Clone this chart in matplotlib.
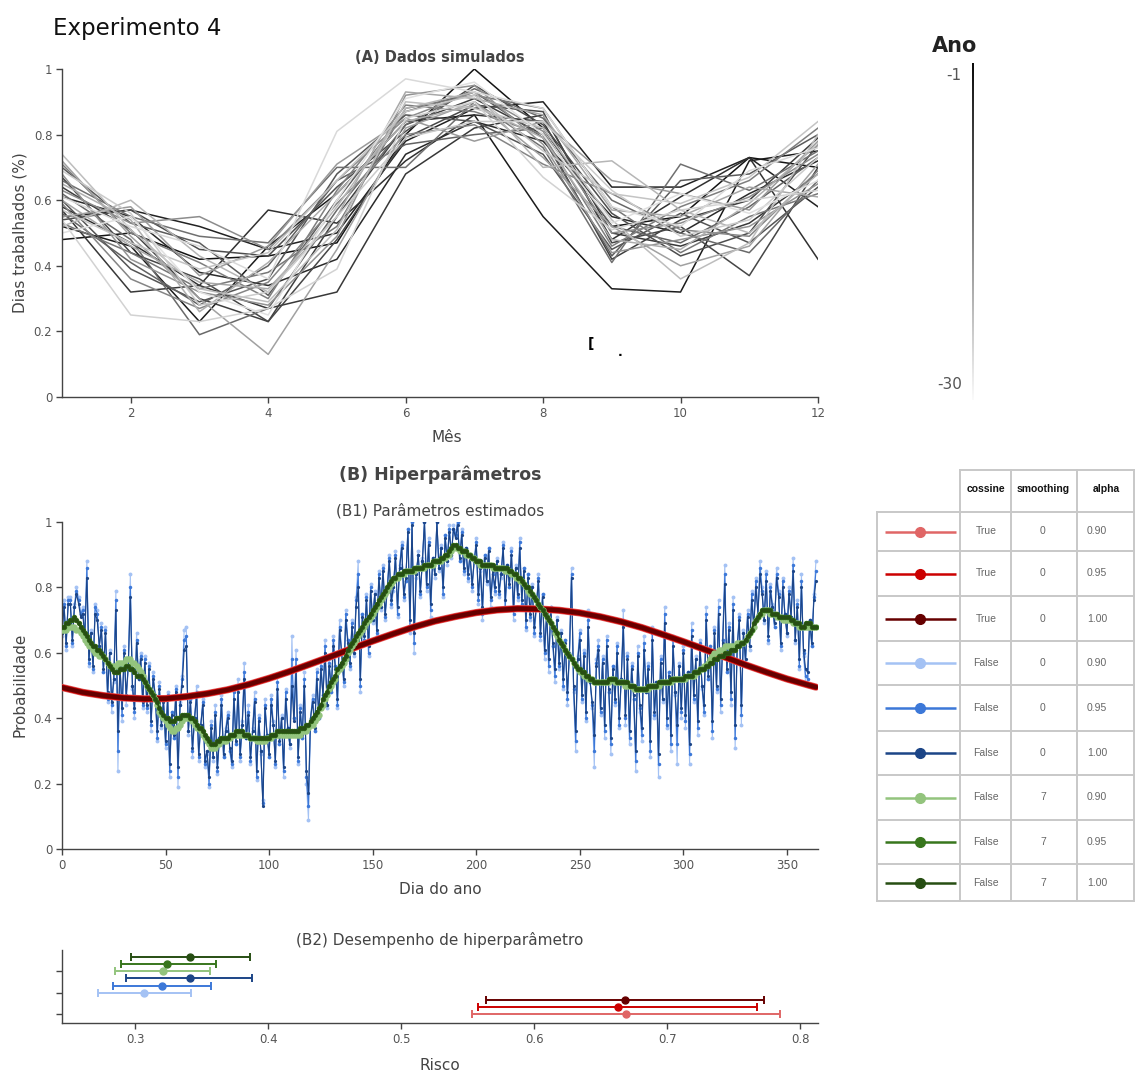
import numpy as np
import matplotlib
matplotlib.use("Agg")
import matplotlib.pyplot as plt

W, H = 1137, 1075

# ---- (A) dados simulados: uma linha por ano, de -1 (mais recente) a -30 ----
months = list(range(1, 13))
year_labels = ["-1", "-30"]
worked = [
    [0.48, 0.50, 0.42, 0.43, 0.47, 0.80, 1.00, 0.82, 0.52, 0.55, 0.73, 0.70],
    [0.52, 0.46, 0.23, 0.46, 0.62, 0.84, 0.86, 0.55, 0.33, 0.32, 0.72, 0.75],
    [0.55, 0.57, 0.52, 0.45, 0.50, 0.78, 0.88, 0.90, 0.64, 0.64, 0.73, 0.58],
    [0.61, 0.55, 0.38, 0.34, 0.42, 0.74, 0.84, 0.78, 0.55, 0.50, 0.62, 0.72],
    [0.58, 0.47, 0.34, 0.57, 0.53, 0.72, 0.86, 0.84, 0.48, 0.61, 0.73, 0.42],
    [0.57, 0.32, 0.34, 0.27, 0.32, 0.68, 0.82, 0.86, 0.50, 0.46, 0.53, 0.68],
    [0.64, 0.51, 0.30, 0.23, 0.55, 0.83, 0.91, 0.80, 0.42, 0.54, 0.60, 0.79],
    [0.67, 0.44, 0.36, 0.23, 0.48, 0.79, 0.89, 0.87, 0.47, 0.52, 0.37, 0.70],
    [0.54, 0.57, 0.45, 0.43, 0.64, 0.81, 0.95, 0.83, 0.56, 0.43, 0.50, 0.77],
    [0.60, 0.39, 0.29, 0.36, 0.68, 0.86, 0.84, 0.74, 0.45, 0.56, 0.47, 0.64],
    [0.70, 0.53, 0.47, 0.31, 0.60, 0.87, 0.93, 0.79, 0.43, 0.66, 0.68, 0.80],
    [0.56, 0.41, 0.28, 0.40, 0.66, 0.77, 0.80, 0.82, 0.52, 0.47, 0.58, 0.73],
    [0.62, 0.48, 0.19, 0.27, 0.57, 0.83, 0.94, 0.85, 0.60, 0.50, 0.44, 0.66],
    [0.66, 0.55, 0.49, 0.47, 0.70, 0.70, 0.90, 0.76, 0.41, 0.71, 0.63, 0.75],
    [0.53, 0.44, 0.33, 0.38, 0.52, 0.88, 0.92, 0.88, 0.58, 0.44, 0.55, 0.62],
    [0.71, 0.50, 0.41, 0.30, 0.63, 0.89, 0.87, 0.80, 0.46, 0.58, 0.66, 0.82],
    [0.59, 0.36, 0.27, 0.35, 0.59, 0.80, 0.83, 0.71, 0.62, 0.51, 0.49, 0.69],
    [0.63, 0.53, 0.55, 0.45, 0.66, 0.85, 0.93, 0.81, 0.50, 0.53, 0.61, 0.74],
    [0.68, 0.42, 0.32, 0.28, 0.49, 0.92, 0.95, 0.77, 0.44, 0.48, 0.52, 0.65],
    [0.55, 0.58, 0.37, 0.46, 0.71, 0.85, 0.78, 0.84, 0.66, 0.62, 0.57, 0.78],
    [0.72, 0.49, 0.30, 0.13, 0.45, 0.82, 0.90, 0.73, 0.52, 0.40, 0.46, 0.71],
    [0.60, 0.46, 0.35, 0.33, 0.55, 0.93, 0.91, 0.86, 0.57, 0.55, 0.64, 0.61],
    [0.65, 0.54, 0.26, 0.41, 0.62, 0.84, 0.89, 0.79, 0.48, 0.45, 0.59, 0.77],
    [0.52, 0.60, 0.43, 0.32, 0.58, 0.88, 0.93, 0.70, 0.72, 0.57, 0.50, 0.68],
    [0.74, 0.51, 0.33, 0.29, 0.51, 0.90, 0.88, 0.82, 0.54, 0.36, 0.47, 0.80],
    [0.57, 0.47, 0.39, 0.44, 0.66, 0.87, 0.92, 0.75, 0.62, 0.59, 0.67, 0.84],
    [0.69, 0.56, 0.28, 0.32, 0.55, 0.79, 0.84, 0.84, 0.63, 0.49, 0.54, 0.73],
    [0.54, 0.25, 0.23, 0.27, 0.39, 0.85, 0.90, 0.67, 0.51, 0.57, 0.60, 0.63],
    [0.61, 0.52, 0.46, 0.36, 0.81, 0.97, 0.93, 0.88, 0.58, 0.52, 0.69, 0.76],
    [0.50, 0.55, 0.32, 0.25, 0.60, 0.91, 0.96, 0.80, 0.53, 0.62, 0.56, 0.66],
]

# ---- (B1) probabilidades estimadas por dia do ano (em %) ----
days = list(range(365))
blue_090 = [
    65, 76, 61, 77, 77, 62, 75, 80, 77, 72, 74, 65, 88, 56, 67, 54, 75, 73, 62, 69,
    54, 68, 45, 61, 42, 51, 79, 24, 56, 39, 62, 44, 56, 84, 49, 40, 66, 52, 60, 43,
    59, 42, 57, 36, 54, 47, 33, 51, 37, 46, 31, 48, 22, 42, 34, 50, 19, 45, 53, 67,
    68, 35, 46, 28, 40, 50, 27, 38, 46, 25, 29, 19, 39, 27, 44, 23, 34, 47, 28, 37,
    42, 30, 25, 49, 32, 52, 27, 39, 57, 34, 44, 26, 37, 48, 21, 41, 29, 15, 46, 35,
    28, 47, 39, 25, 53, 32, 41, 22, 49, 37, 31, 65, 40, 61, 26, 44, 34, 54, 20, 9,
    40, 47, 36, 55, 40, 58, 47, 64, 43, 58, 48, 65, 56, 43, 70, 61, 50, 73, 64, 55,
    70, 59, 77, 88, 48, 72, 64, 78, 59, 81, 69, 79, 65, 85, 73, 87, 70, 79, 90, 74,
    79, 91, 71, 87, 94, 76, 82, 98, 66, 100, 60, 83, 91, 77, 89, 100, 79, 95, 71, 89,
    83, 100, 85, 93, 77, 96, 87, 99, 89, 99, 96, 100, 88, 98, 84, 92, 82, 90, 79, 88,
    95, 75, 85, 70, 90, 81, 92, 74, 84, 78, 89, 77, 83, 94, 73, 87, 80, 92, 70, 87,
    76, 95, 74, 86, 67, 84, 70, 81, 65, 73, 84, 64, 78, 58, 72, 54, 74, 62, 51, 71,
    55, 67, 49, 64, 44, 60, 86, 48, 30, 59, 67, 45, 61, 39, 73, 51, 43, 25, 58, 64,
    41, 59, 34, 65, 48, 29, 56, 44, 63, 37, 52, 73, 38, 60, 32, 57, 46, 24, 62, 42,
    33, 65, 48, 57, 28, 68, 40, 51, 22, 59, 45, 74, 37, 54, 30, 65, 47, 26, 57, 40,
    62, 37, 54, 26, 69, 45, 59, 35, 64, 49, 41, 74, 52, 62, 34, 68, 48, 76, 42, 64,
    87, 54, 69, 44, 77, 31, 62, 72, 38, 67, 56, 73, 61, 79, 68, 83, 72, 88, 80, 69,
    85, 63, 81, 75, 68, 86, 79, 61, 83, 72, 65, 80, 71, 89, 63, 76, 55, 84, 59, 51,
    50, 70, 62, 78, 88,
]
blue_095 = [
    66, 75, 62, 76, 76, 63, 74, 79, 76, 72, 73, 65, 86, 57, 66, 55, 74, 72, 62, 68,
    54, 67, 46, 60, 44, 52, 76, 30, 56, 41, 61, 46, 56, 80, 50, 42, 64, 52, 59, 44,
    58, 43, 56, 38, 53, 47, 34, 50, 38, 46, 32, 47, 24, 42, 34, 49, 22, 44, 52, 64,
    65, 36, 46, 30, 40, 48, 28, 38, 45, 26, 30, 20, 38, 28, 42, 24, 34, 46, 28, 36,
    41, 30, 26, 48, 32, 50, 28, 38, 54, 34, 42, 27, 36, 46, 22, 40, 30, 14, 44, 35,
    28, 46, 38, 26, 51, 32, 40, 24, 48, 37, 32, 58, 40, 58, 27, 43, 34, 52, 22, 13,
    40, 46, 36, 54, 40, 56, 47, 62, 44, 57, 48, 64, 56, 44, 68, 60, 51, 72, 64, 56,
    69, 60, 76, 84, 50, 72, 64, 77, 60, 80, 70, 78, 66, 84, 74, 86, 71, 79, 89, 75,
    80, 90, 72, 86, 93, 77, 82, 98, 68, 100, 63, 84, 90, 78, 88, 100, 80, 94, 73, 89,
    84, 100, 86, 92, 78, 96, 88, 98, 90, 98, 96, 100, 88, 97, 85, 92, 83, 90, 80, 88,
    94, 76, 86, 72, 90, 82, 92, 76, 84, 79, 88, 78, 84, 93, 74, 87, 80, 91, 72, 86,
    77, 94, 75, 86, 68, 84, 71, 80, 66, 74, 83, 65, 78, 60, 72, 56, 74, 62, 53, 70,
    56, 66, 50, 64, 46, 60, 84, 49, 33, 58, 66, 46, 60, 40, 70, 51, 44, 30, 57, 62,
    42, 58, 36, 64, 48, 32, 56, 45, 62, 38, 52, 70, 40, 59, 34, 56, 46, 27, 60, 43,
    35, 63, 48, 56, 30, 66, 41, 51, 26, 58, 46, 72, 38, 54, 32, 64, 48, 32, 56, 42,
    61, 39, 54, 29, 67, 46, 58, 37, 63, 50, 42, 72, 52, 62, 36, 67, 49, 74, 44, 64,
    84, 54, 68, 46, 75, 34, 62, 71, 41, 66, 57, 72, 62, 78, 68, 82, 72, 86, 79, 70,
    84, 64, 80, 74, 68, 84, 78, 62, 82, 72, 66, 79, 71, 87, 64, 75, 56, 82, 60, 53,
    52, 70, 62, 77, 85,
]
blue_100 = [
    66, 74, 63, 75, 75, 64, 74, 78, 75, 71, 72, 65, 83, 58, 66, 56, 72, 70, 62, 67,
    55, 66, 48, 60, 45, 52, 73, 36, 56, 43, 60, 47, 56, 77, 50, 43, 63, 52, 58, 45,
    57, 44, 55, 39, 52, 47, 36, 49, 38, 45, 33, 46, 26, 41, 35, 48, 25, 44, 50, 61,
    62, 36, 45, 31, 40, 47, 29, 38, 44, 27, 30, 22, 37, 28, 41, 25, 34, 44, 29, 36,
    40, 31, 27, 46, 33, 48, 29, 38, 52, 34, 41, 28, 36, 45, 24, 39, 30, 13, 43, 35,
    29, 44, 38, 27, 49, 33, 40, 25, 46, 37, 32, 50, 39, 55, 28, 42, 35, 50, 24, 17,
    40, 45, 37, 52, 41, 55, 47, 60, 44, 56, 49, 62, 55, 46, 67, 60, 52, 70, 63, 57,
    68, 60, 74, 80, 52, 71, 65, 76, 62, 79, 70, 78, 67, 83, 74, 85, 72, 79, 88, 76,
    80, 89, 74, 86, 92, 78, 83, 97, 70, 99, 66, 84, 90, 79, 88, 100, 81, 93, 75, 89,
    84, 100, 86, 92, 80, 95, 88, 97, 90, 98, 95, 99, 89, 96, 86, 92, 84, 90, 81, 88,
    93, 78, 86, 74, 89, 82, 91, 77, 85, 80, 88, 79, 84, 92, 76, 87, 81, 90, 73, 86,
    78, 92, 76, 85, 70, 83, 72, 80, 68, 74, 82, 66, 77, 61, 72, 58, 73, 63, 55, 70,
    57, 66, 52, 63, 48, 60, 83, 50, 36, 58, 64, 47, 59, 42, 68, 51, 45, 35, 56, 61,
    43, 57, 38, 62, 49, 34, 55, 46, 60, 40, 52, 68, 41, 58, 36, 55, 47, 30, 59, 44,
    37, 61, 48, 55, 33, 64, 42, 51, 29, 57, 46, 69, 40, 53, 35, 62, 48, 38, 56, 43,
    60, 41, 54, 32, 65, 47, 58, 39, 62, 50, 44, 70, 53, 61, 39, 66, 50, 72, 46, 63,
    81, 55, 67, 48, 73, 38, 62, 70, 44, 66, 58, 71, 62, 76, 68, 80, 72, 84, 78, 70,
    82, 65, 79, 74, 69, 83, 77, 63, 80, 72, 66, 78, 71, 85, 64, 74, 58, 80, 61, 55,
    54, 70, 63, 76, 82,
]
green_090 = [
    67, 67, 67, 68, 68, 68, 68, 67, 67, 66, 65, 64, 63, 62, 62, 61, 60, 60, 59, 59,
    59, 58, 57, 56, 56, 56, 56, 57, 57, 57, 57, 58, 58, 58, 57, 57, 56, 55, 54, 53,
    51, 50, 49, 48, 47, 46, 44, 42, 41, 40, 39, 38, 37, 36, 36, 37, 37, 38, 39, 40,
    40, 40, 40, 39, 38, 37, 37, 36, 35, 34, 33, 32, 31, 31, 31, 32, 32, 33, 33, 33,
    34, 34, 35, 35, 35, 35, 35, 35, 35, 35, 35, 34, 34, 34, 33, 33, 33, 33, 33, 34,
    34, 34, 35, 35, 35, 35, 35, 35, 35, 35, 35, 35, 35, 35, 35, 35, 36, 36, 36, 37,
    38, 38, 39, 40, 41, 43, 44, 46, 47, 49, 50, 51, 52, 54, 55, 56, 57, 58, 60, 61,
    62, 63, 64, 65, 66, 67, 68, 69, 70, 71, 72, 73, 74, 75, 76, 77, 78, 79, 80, 81,
    82, 83, 83, 84, 84, 84, 85, 85, 85, 85, 85, 86, 86, 86, 86, 86, 87, 87, 87, 87,
    88, 88, 88, 88, 89, 89, 90, 90, 91, 92, 92, 92, 91, 91, 91, 90, 90, 90, 89, 89,
    88, 88, 87, 87, 87, 87, 87, 87, 86, 86, 86, 86, 86, 86, 85, 85, 85, 84, 84, 83,
    83, 82, 82, 81, 80, 79, 78, 78, 77, 76, 75, 74, 73, 72, 71, 70, 69, 68, 66, 65,
    64, 63, 62, 61, 60, 59, 58, 57, 56, 55, 54, 54, 53, 53, 52, 52, 52, 51, 51, 51,
    51, 51, 51, 51, 51, 52, 52, 51, 51, 51, 51, 51, 50, 50, 50, 50, 49, 49, 49, 49,
    49, 49, 49, 49, 50, 50, 50, 50, 50, 51, 51, 51, 51, 51, 51, 52, 52, 52, 52, 52,
    52, 52, 53, 53, 53, 53, 54, 54, 55, 55, 56, 56, 57, 58, 59, 60, 60, 61, 61, 61,
    62, 62, 62, 62, 62, 62, 63, 63, 63, 63, 64, 65, 66, 67, 68, 70, 71, 72, 72, 73,
    73, 73, 72, 72, 72, 71, 71, 71, 70, 70, 70, 70, 70, 69, 69, 69, 68, 68, 68, 68,
    68, 68, 68, 68, 68,
]
green_100 = [
    68, 68, 69, 69, 70, 70, 71, 70, 69, 68, 67, 66, 65, 64, 63, 62, 62, 61, 61, 60,
    59, 58, 57, 56, 55, 54, 54, 54, 55, 55, 55, 56, 56, 55, 55, 54, 53, 53, 53, 52,
    51, 50, 49, 48, 47, 46, 45, 43, 42, 41, 40, 40, 39, 39, 39, 40, 40, 40, 41, 41,
    41, 41, 40, 40, 39, 38, 37, 37, 36, 35, 34, 33, 32, 32, 32, 33, 33, 34, 34, 34,
    34, 35, 35, 35, 36, 36, 36, 36, 35, 35, 35, 34, 34, 34, 34, 34, 34, 34, 34, 34,
    34, 35, 35, 35, 36, 36, 36, 36, 36, 36, 36, 36, 36, 36, 36, 37, 37, 37, 38, 38,
    39, 40, 41, 42, 43, 44, 46, 47, 48, 50, 51, 52, 53, 55, 56, 57, 58, 59, 61, 62,
    63, 64, 65, 66, 67, 68, 69, 70, 71, 72, 73, 74, 75, 76, 77, 78, 79, 80, 81, 82,
    83, 83, 84, 84, 84, 85, 85, 85, 85, 85, 86, 86, 86, 86, 86, 87, 87, 87, 87, 88,
    88, 88, 88, 89, 89, 90, 90, 91, 92, 93, 93, 92, 92, 91, 91, 91, 90, 90, 89, 89,
    88, 88, 88, 87, 87, 87, 87, 87, 87, 86, 86, 86, 86, 86, 86, 86, 85, 85, 84, 84,
    83, 83, 82, 81, 80, 80, 79, 78, 77, 76, 75, 74, 73, 72, 71, 70, 69, 68, 67, 66,
    64, 63, 62, 61, 60, 59, 58, 57, 56, 55, 55, 54, 54, 53, 53, 52, 52, 51, 51, 51,
    51, 51, 51, 51, 52, 52, 52, 52, 51, 51, 51, 51, 51, 51, 50, 50, 50, 49, 49, 49,
    49, 49, 49, 50, 50, 50, 50, 50, 51, 51, 51, 51, 51, 51, 52, 52, 52, 52, 52, 52,
    52, 53, 53, 53, 53, 54, 54, 54, 55, 55, 55, 56, 56, 57, 57, 58, 58, 59, 59, 59,
    60, 60, 60, 61, 61, 61, 62, 62, 63, 63, 64, 65, 66, 67, 69, 70, 71, 72, 73, 73,
    73, 73, 73, 72, 72, 72, 71, 71, 71, 71, 71, 71, 70, 70, 69, 69, 69, 68, 68, 69,
    69, 69, 68, 68, 68,
]
# alpha=0.95 com suavizacao coincide com a curva de alpha=1.00 nesta escala
green_095 = green_100

# ajuste de cosseno (as tres variantes de alpha se sobrepoem)
cos_days = [0, 10, 20, 30, 40, 50, 60, 70, 80, 90, 100, 110, 120, 130, 140, 150, 160, 170, 180,
            190, 200, 210, 220, 230, 240, 250, 260, 270, 280, 290, 300, 310, 320, 330, 340,
            350, 360, 364]
cos_fit = [49.4, 47.9, 46.9, 46.2, 45.9, 46.0, 46.6, 47.5, 48.7, 50.3, 52.2, 54.3, 56.6, 58.9,
           61.3, 63.6, 65.8, 67.9, 69.7, 71.1, 72.3, 73.1, 73.5, 73.4, 73.0, 72.2, 71.0, 69.5,
           67.7, 65.6, 63.4, 61.1, 58.7, 56.3, 54.1, 52.0, 50.2, 49.5]

# ---- configuracoes de hiperparametros e (B2) risco ----
cossine = ["True", "True", "True", "False", "False", "False", "False", "False", "False"]
smoothing = ["0", "0", "0", "0", "0", "0", "7", "7", "7"]
alphas = ["0.90", "0.95", "1.00", "0.90", "0.95", "1.00", "0.90", "0.95", "1.00"]
risk_mean = [0.669, 0.663, 0.668, 0.307, 0.320, 0.341, 0.321, 0.324, 0.341]
risk_lo = [0.553, 0.558, 0.564, 0.272, 0.283, 0.293, 0.285, 0.289, 0.297]
risk_hi = [0.785, 0.768, 0.773, 0.342, 0.357, 0.388, 0.356, 0.361, 0.386]

colors = ["#e06666", "#cc0000", "#660000",
          "#a4c2f4", "#3c78d8", "#1c4587",
          "#93c47d", "#38761d", "#274e13"]

for arr in (blue_090, blue_095, blue_100, green_090, green_100):
    assert len(arr) == len(days)

TXT = "#444444"
TICK = "#555555"


def fx(x):
    return x / W


def fy(y):
    return 1 - y / H


def style_axes(ax):
    for s in ("top", "right"):
        ax.spines[s].set_visible(False)
    for s in ("left", "bottom"):
        ax.spines[s].set_color("#444444")
        ax.spines[s].set_linewidth(1.0)
    ax.tick_params(direction="out", length=4, width=1, color="#444444",
                   labelcolor=TICK, labelsize=8.5, pad=3)


fig = plt.figure(figsize=(W / 100, H / 100), dpi=100)

# camada de fundo em pixels para a tabela de legenda
tab = fig.add_axes([0, 0, 1, 1], zorder=-1)
tab.set_xlim(0, W)
tab.set_ylim(H, 0)
tab.axis("off")

# ---------- painel A ----------
axA = fig.add_axes([fx(62), fy(397), fx(818) - fx(62), fy(69) - fy(397)])
n = len(worked)
for k, row in enumerate(worked):
    g = 0.08 + 0.80 * k / (n - 1)
    axA.plot(months, row, color=(g, g, g), lw=1.1)
axA.set_xlim(1, 12)
axA.set_ylim(0, 1)
axA.set_xticks([2, 4, 6, 8, 10, 12])
axA.set_yticks([0, 0.2, 0.4, 0.6, 0.8, 1])
axA.set_yticklabels(["0", "0.2", "0.4", "0.6", "0.8", "1"])
style_axes(axA)

fig.text(fx(53), fy(28), "Experimento 4", fontsize=16.5, color="#111111",
         ha="left", va="center")
fig.text(fx(440), fy(58), "(A) Dados simulados", fontsize=10.5, fontweight="bold",
         color=TXT, ha="center", va="center")
fig.text(fx(447), fy(438), "Mês", fontsize=11, color=TXT, ha="center", va="center")
fig.text(fx(20), fy(233), "Dias trabalhados (%)", fontsize=11, color=TXT,
         ha="center", va="center", rotation=90)
fig.text(fx(591), fy(344), "[", fontsize=10, fontweight="bold", color="#000000",
         ha="center", va="center")
fig.text(fx(620), fy(352), ".", fontsize=9, fontweight="bold", color="#000000",
         ha="center", va="center")

# barra de cores dos anos
axC = fig.add_axes([fx(972), fy(400), 2 / W, fy(63) - fy(400)])
axC.imshow(np.linspace(0.05, 1.0, 256).reshape(-1, 1), cmap="gray", vmin=0, vmax=1.02,
           aspect="auto")
axC.axis("off")
fig.text(fx(955), fy(46), "Ano", fontsize=15, fontweight="bold", color="#222222",
         ha="center", va="center")
fig.text(fx(961), fy(75), year_labels[0], fontsize=11, color=TICK, ha="right", va="center")
fig.text(fx(962), fy(385), year_labels[1], fontsize=11, color=TICK, ha="right", va="center")

# ---------- painel B1 ----------
axB = fig.add_axes([fx(62), fy(849), fx(818) - fx(62), fy(522) - fy(849)])
pct = lambda a: np.asarray(a) / 100.0
for arr, c, ms in ((blue_090, colors[3], 2.8), (blue_095, colors[4], 2.5),
                   (blue_100, colors[5], 2.3)):
    axB.plot(days, pct(arr), color=c, lw=0.8, marker="o", ms=ms, mec="none", zorder=2)
for lw, c in ((5.2, colors[0]), (4.3, colors[1]), (3.2, colors[2])):
    axB.plot(cos_days, pct(cos_fit), color=c, lw=lw, solid_capstyle="round", zorder=3)
for arr, c, ms in ((green_090, colors[6], 4.6), (green_095, colors[7], 3.9),
                   (green_100, colors[8], 3.0)):
    axB.plot(days, pct(arr), color=c, lw=1.2, marker="o", ms=ms, mec="none", zorder=4)
axB.set_xlim(0, 365)
axB.set_ylim(0, 1)
axB.set_xticks([0, 50, 100, 150, 200, 250, 300, 350])
axB.set_yticks([0, 0.2, 0.4, 0.6, 0.8, 1])
axB.set_yticklabels(["0", "0.2", "0.4", "0.6", "0.8", "1"])
style_axes(axB)

fig.text(fx(440), fy(475), "(B) Hiperparâmetros", fontsize=12.5, fontweight="bold",
         color=TXT, ha="center", va="center")
fig.text(fx(440), fy(511), "(B1) Parâmetros estimados", fontsize=11, color=TXT,
         ha="center", va="center")
fig.text(fx(20), fy(685), "Probabilidade", fontsize=11, color=TXT,
         ha="center", va="center", rotation=90)
fig.text(fx(440), fy(889), "Dia do ano", fontsize=11, color=TXT, ha="center", va="center")

# ---------- painel B2 ----------
axR = fig.add_axes([fx(62), fy(1023), fx(818) - fx(62), fy(950) - fy(1023)])
for i, c in enumerate(colors):
    axR.errorbar(risk_mean[i], i,
                 xerr=[[risk_mean[i] - risk_lo[i]], [risk_hi[i] - risk_mean[i]]],
                 fmt="o", color=c, ms=5, elinewidth=1.4, capsize=3.2, capthick=1.4)
axR.set_xlim(0.245, 0.8135)
axR.set_ylim(-1.25, 9)
axR.set_xticks([0.3, 0.4, 0.5, 0.6, 0.7, 0.8])
axR.set_yticks([0, 3, 6])
axR.set_yticklabels([])
style_axes(axR)

fig.text(fx(440), fy(940), "(B2) Desempenho de hiperparâmetro", fontsize=11, color=TXT,
         ha="center", va="center")
fig.text(fx(440), fy(1066), "Risco", fontsize=11, color=TXT, ha="center", va="center")

# ---------- tabela de legenda ----------
col_x = [877, 960, 1011, 1077, 1134]
row_y = [470, 512, 551, 596, 641, 685, 731, 775, 820, 864, 901]
grid = "#c8c8c8"
for i, y in enumerate(row_y):
    x0 = col_x[1] if i == 0 else col_x[0]
    tab.plot([x0, col_x[-1]], [y, y], color=grid, lw=1.4)
for j, x in enumerate(col_x):
    y0 = row_y[1] if j == 0 else row_y[0]
    tab.plot([x, x], [y0, row_y[-1]], color=grid, lw=1.4)

tfont = ["Liberation Sans", "DejaVu Sans"]
head_y = (row_y[0] + row_y[1]) / 2 - 2
for cx, label in ((986, "cossine"), (1043, "smoothing"), (1106, "alpha")):
    tab.text(cx, head_y, label, fontsize=7.5, fontweight="bold", color="#111111",
             ha="center", va="center", family=tfont)
for i in range(len(colors)):
    cy = (row_y[i + 1] + row_y[i + 2]) / 2
    tab.plot([885, 956], [cy, cy], color=colors[i], lw=1.8, solid_capstyle="butt")
    tab.plot([920], [cy], "o", color=colors[i], ms=7)
    tab.text(986, cy, cossine[i], fontsize=7.5, color="#666666", ha="center", va="center",
             family=tfont)
    tab.text(1043, cy, smoothing[i], fontsize=7.5, color="#666666", ha="center", va="center",
             family=tfont)
    tab.text(1087, cy, alphas[i], fontsize=7.5, color="#666666", ha="left", va="center",
             family=tfont)

fig.savefig("out.png", dpi=100)
